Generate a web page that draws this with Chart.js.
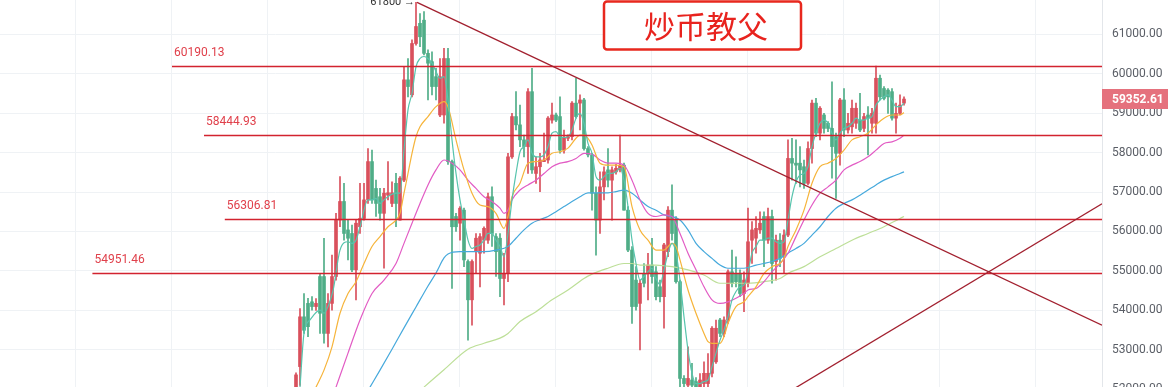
<!DOCTYPE html>
<html>
<head>
<meta charset="utf-8">
<script src="https://cdn.jsdelivr.net/npm/chart.js@4.4.0/dist/chart.umd.min.js"></script>
<style>
  html, body { margin: 0; padding: 0; background: #fff; overflow: hidden; }
  #wrap { width: 1168px; height: 400px; }
</style>
</head>
<body>
<div id="wrap"><canvas id="kline" width="1168" height="400"></canvas></div>
<script>
// candles, index 0 = first visible candle
const candleOpen = [
  51900, 52580, 53840, 54180, 54220, 54100, 54860, 54860, 53420, 54180,
  54860, 56290, 56760, 56040, 55950, 55030, 56120, 56330, 56800, 57770,
  57090, 56880, 56460, 56920, 56710, 57220, 56290, 57300, 59840, 59460,
  60760, 61270, 61350, 60510, 60300, 59920, 58950, 58950, 60380, 57770,
  56380, 56210, 56540, 55240, 54270, 55490, 55450, 55780, 55780, 56880,
  55870, 55830, 54810, 54940, 57890, 58910, 58700, 58320, 58150, 59540,
  57470, 57640, 57770, 57810, 58820, 58950, 58910, 58060, 58360, 58400,
  59250, 59250, 59330, 58100, 57940, 56970, 56290, 57130, 57560, 57300,
  57510, 57560, 57680, 56540, 55530, 54770, 54180, 54940, 54940, 55150,
  54980, 54600, 54350, 55490, 56540, 56290, 54730, 52280, 52110, 52240,
  52200, 52070, 52150, 52150, 52410, 52700, 53760, 53420, 53760, 54980,
  54940, 54940, 54430, 54690, 55780, 55830, 56040, 56380, 55780, 56380,
  55240, 55780, 55360, 55910, 57850, 57730, 57730, 57640, 57220, 58100,
  59250, 58490, 58950, 58740, 58610, 58400, 57980, 59330, 58570, 58650,
  58740, 58820, 58610, 58950, 58740, 58740, 59880, 59620, 59580, 59540,
  58870, 58990, 59250
];
const candleHigh = [
  52420, 54050, 54430, 54310, 54350, 54300, 54940, 55830, 54430, 55400,
  56460, 57390, 57220, 56290, 56160, 56290, 57220, 57220, 58100, 58060,
  57300, 57090, 57090, 57770, 57260, 57470, 57390, 60170, 60380, 60850,
  61800, 61520, 61570, 60600, 60550, 60130, 60380, 60640, 60640, 57810,
  56460, 56630, 56590, 55280, 55280, 55950, 55950, 56120, 56970, 57130,
  55950, 55950, 55450, 57980, 58990, 59540, 59200, 58440, 59620, 60130,
  57890, 57980, 58490, 58910, 59250, 59000, 59410, 58570, 58450, 59290,
  59880, 59460, 59370, 58150, 57980, 57130, 57510, 57640, 58100, 57640,
  57700, 58440, 57730, 56630, 55620, 55110, 54770, 55190, 55450, 55830,
  55110, 54770, 55700, 56630, 57180, 56380, 54770, 52350, 53080, 52660,
  52300, 52400, 52700, 52910, 53590, 53760, 53800, 53840, 55030, 55530,
  55360, 55030, 54980, 56590, 56250, 56380, 56500, 56500, 56590, 56540,
  55910, 55950, 56040, 58320, 58360, 58320, 58150, 57810, 58270, 59330,
  59370, 59160, 58990, 58780, 59790, 58490, 59370, 59620, 58990, 59330,
  59250, 59500, 58990, 59160, 59120, 60190, 59960, 59670, 59620, 59620,
  59250, 59460, 59410
];
const candleLow = [
  51800, 52100, 53420, 53340, 54010, 54000, 53420, 53170, 53080, 54010,
  54770, 56120, 55780, 55280, 54980, 54270, 55950, 56290, 56710, 56710,
  56380, 56290, 55070, 56800, 56630, 56120, 56290, 57260, 59410, 59410,
  60720, 60680, 60470, 59330, 59460, 59330, 58910, 58740, 57700, 54560,
  56000, 55780, 55110, 53250, 53630, 54940, 54600, 55450, 55700, 55620,
  54860, 54350, 54140, 54730, 57850, 58570, 58150, 57890, 57470, 57470,
  57220, 57010, 57770, 57730, 58740, 58780, 57980, 57980, 58300, 58320,
  58870, 58570, 58060, 57890, 56540, 55400, 55950, 56800, 57130, 56290,
  57450, 57510, 56540, 55490, 53670, 54010, 53000, 54600, 54270, 54690,
  54270, 54220, 53550, 55360, 55780, 54690, 51900, 51950, 51950, 51950,
  51900, 51950, 51950, 51950, 52320, 52660, 53340, 53340, 53670, 54600,
  54600, 54350, 53970, 54600, 55190, 55450, 55950, 55110, 55700, 54690,
  54770, 55110, 54940, 55870, 57300, 57220, 57130, 57090, 57180, 57730,
  58400, 58320, 58490, 58530, 57350, 56840, 57680, 58400, 58490, 58490,
  58610, 58530, 58530, 57940, 58490, 58490, 59330, 59330, 58990, 58820,
  58490, 58950, 59200
];
const candleClose = [
  52370, 53840, 53500, 53590, 54100, 54180, 53930, 53420, 54180, 54860,
  56290, 56760, 55950, 55830, 55030, 56210, 56330, 56800, 57770, 56800,
  56710, 56460, 56970, 56980, 56980, 56710, 57350, 59840, 59670, 60760,
  61190, 60930, 60510, 60260, 59670, 59670, 59920, 60380, 57770, 56120,
  56120, 56590, 55280, 54270, 55240, 55830, 55870, 56080, 56880, 55950,
  55490, 54810, 54940, 57890, 58910, 58700, 58320, 58150, 59540, 57560,
  57640, 57810, 57810, 58870, 58950, 58820, 58060, 58360, 58400, 59250,
  58910, 59330, 58100, 57940, 56970, 56290, 57130, 57510, 57300, 57560,
  57600, 57680, 56540, 55530, 54100, 54100, 54690, 54690, 55150, 54860,
  54350, 54350, 55660, 56540, 55950, 54730, 52280, 52150, 52280, 52110,
  52060, 52240, 52410, 52410, 53550, 53550, 53420, 53760, 54980, 54690,
  54730, 54430, 54770, 55740, 56040, 56080, 56210, 55780, 56380, 55190,
  55780, 55320, 55910, 57850, 57730, 57680, 57560, 57220, 58100, 59250,
  58490, 59120, 58610, 58610, 58150, 57980, 59330, 58570, 58740, 59120,
  59120, 58570, 58910, 58870, 58990, 59880, 59410, 59370, 59410, 58870,
  58990, 59200, 59352.61
];

// moving averages: [candle index, price]
const ma5 = [
  [1, 52060], [2, 53420], [3.5, 53760], [6, 54010], [7, 53930], [8, 54100], [9.3, 54520],
  [11, 55530], [13, 55740], [14, 55700], [15, 55780], [16, 56120], [18, 56800], [19, 56800],
  [20, 56840], [21, 56710], [22, 56800], [23.5, 56920], [25, 56970], [26, 56970], [27, 58060],
  [28, 59080], [29, 59500], [30, 60170], [31, 60380], [32, 60430], [33, 60380], [34, 60260],
  [35, 60050], [36, 59880], [37, 59920], [38, 59330], [39, 58320], [40, 57470], [41, 56800],
  [42, 56290], [43, 55780], [44, 55570], [45, 55620], [46, 55660], [47, 55780], [48, 55950],
  [49, 55950], [50, 55780], [51, 55620], [52, 55360], [53, 55950], [54, 56800], [55, 57470],
  [56, 58020], [57, 58150], [58, 58320], [59, 57980], [60, 57890], [61, 57890], [62, 57940],
  [63, 58150], [64, 58490], [65, 58530], [66, 58400], [67, 58380], [68, 58400], [69, 58570],
  [70, 58870], [71, 58990], [72, 58740], [73, 58230], [74, 57980], [75, 57390], [76, 57300],
  [77, 57390], [78, 57470], [79, 57470], [80, 57510], [81, 57600], [82, 57300], [83, 56630],
  [84, 55780], [85, 55190], [86, 54770], [87, 54860], [88, 54980], [89, 55070], [90, 54810],
  [91, 54650], [92, 55030], [93, 55450], [94, 55700], [95, 55450], [96, 54770], [97, 53840],
  [98, 53000], [99, 52410], [100, 52150], [101, 52150], [102, 52200], [103, 52240], [104, 52580],
  [105, 52920], [106, 53250], [107, 53510], [108, 53840], [109, 54270], [110, 54480], [111, 54600],
  [112, 54650], [113, 54980], [114, 55450], [115, 55620], [116, 55780], [117, 55780], [118, 55830],
  [119, 55830], [120, 55740], [121, 55700], [122, 55740], [123, 56290], [124, 56880], [125, 57260],
  [126, 57430], [127, 57470], [128, 57640], [129, 58150], [130, 58490], [131, 58740], [132, 58820],
  [133, 58740], [134, 58490], [135, 58320], [136, 58490], [137, 58610], [138, 58650], [139, 58740],
  [140, 58870], [141, 58820], [142, 58820], [143, 58870], [144, 58910], [145, 59200], [146, 59330],
  [147, 59410], [148, 59460], [149, 59330], [150, 59160], [151, 59160], [152, 59250]
];
const ma10 = [
  [5, 52060], [7, 52490], [9, 53080], [11, 53930], [13, 54430], [15, 54730], [17, 55190],
  [19, 55620], [21, 55870], [23, 56120], [25, 56290], [26, 56460], [27, 56970], [28, 57470],
  [29, 57980], [30, 58400], [31, 58650], [33, 58910], [35, 59160], [37, 59290], [38, 59160],
  [40, 58320], [42, 57560], [44, 56970], [46, 56670], [48, 56630], [50, 56460], [52, 56080],
  [53, 56380], [54, 56880], [56, 57220], [58, 57730], [60, 57770], [62, 57810], [64, 57980],
  [66, 58020], [68, 58110], [70, 58360], [71, 58440], [72, 58440], [73, 58360], [74, 58190],
  [76, 57730], [78, 57680], [80, 57680], [82, 57640], [84, 56630], [86, 56040], [88, 55780],
  [90, 55530], [92, 55530], [94, 55700], [95, 55620], [96, 55280], [98, 54520], [100, 53930],
  [102, 53420], [103, 53210], [104, 53170], [106, 53170], [107, 53340], [108, 53670], [110, 54100],
  [112, 54220], [113, 54350], [115, 54600], [117, 54940], [119, 55110], [121, 55190], [122, 55320],
  [123, 55620], [125, 56040], [127, 56540], [129, 57220], [131, 57640], [133, 57730], [135, 57850],
  [137, 58060], [139, 58320], [141, 58400], [143, 58490], [145, 58700], [147, 58870], [149, 58950],
  [151, 58950], [152, 59010]
];
const ma20 = [
  [10, 52060], [13, 52920], [16, 53760], [19, 54430], [22, 54770], [25, 55190], [27, 55700],
  [29, 56210], [31, 56710], [33, 57180], [35, 57560], [37, 57810], [39, 57730], [41, 57560],
  [43, 57300], [45, 57090], [47, 56880], [49, 56760], [51, 56590], [52, 56460], [53, 56540],
  [54, 56800], [56, 57050], [58, 57180], [60, 57300], [62, 57470], [64, 57640], [66, 57730],
  [68, 57770], [70, 57850], [72, 57980], [74, 57960], [76, 57810], [78, 57730], [80, 57730],
  [82, 57680], [84, 57300], [86, 56800], [88, 56460], [90, 56380], [92, 56420], [94, 56380],
  [96, 55950], [98, 55450], [100, 55030], [102, 54600], [104, 54270], [106, 54180], [108, 54220],
  [110, 54310], [112, 54430], [113, 54520], [115, 54560], [117, 54730], [119, 54980], [121, 55190],
  [123, 55450], [125, 55870], [127, 56290], [129, 56670], [131, 56970], [133, 57130], [135, 57300],
  [137, 57560], [139, 57680], [141, 57770], [143, 57890], [145, 58060], [147, 58230], [149, 58270],
  [151, 58360], [152, 58440]
];
const ma30 = [
  [18.5, 52060], [21, 52490], [24, 53020], [27, 53560], [30, 54090], [33, 54620], [35, 54950],
  [37, 55330], [38, 55430], [41, 55490], [44, 55490], [47, 55490], [50, 55530], [53, 55620],
  [55, 55830], [57, 56040], [59, 56210], [61, 56300], [63, 56380], [65, 56500], [67, 56630],
  [69, 56760], [71, 56880], [73, 56980], [76, 56980], [78, 56980], [80, 57010], [82, 57050],
  [84, 56970], [86, 56800], [88, 56630], [90, 56540], [92, 56420], [94, 56380], [96, 56290],
  [98, 56040], [100, 55700], [102, 55490], [104, 55320], [106, 55150], [108, 55070], [110, 55070],
  [112, 55070], [115, 55150], [117, 55190], [119, 55240], [121, 55320], [123, 55450], [125, 55570],
  [127, 55700], [129, 55910], [131, 56120], [133, 56380], [135, 56590], [137, 56710], [139, 56800],
  [141, 56920], [143, 57050], [145, 57180], [147, 57300], [149, 57390], [151, 57470], [152, 57510]
];
const ma120 = [
  [32, 52060], [37, 52500], [43, 53020], [47, 53170], [51, 53300], [53, 53420], [56, 53720],
  [60, 53970], [64, 54270], [68, 54520], [72, 54810], [74, 54920], [78, 55070], [82, 55190],
  [84, 55190], [86, 55150], [90, 55150], [94, 55110], [98, 55030], [102, 54900], [106, 54690],
  [110, 54690], [113, 54690], [117, 54730], [121, 54810], [123, 54940], [127, 55110], [131, 55360],
  [135, 55570], [139, 55780], [143, 55950], [147, 56120], [151, 56330], [152, 56380]
];

// price axis ticks
const priceTicks = [52000, 53000, 54000, 55000, 56000, 57000, 58000, 59000, 60000, 61000];

// drawn levels and trend lines
const levels = [60190.13, 58444.93, 56306.81, 54951.46];
const levelFrom = [-31, -23, -17.8, -50.9];
const trendDown = [[30.25, 61800], [172.75, 55000]];
const trendUp = [[126, 52110], [201.5, 56700]];
const lastPrice = 59352.61;

const UP = '#d9505c';
const DOWN = '#4fad87';

const idx = candleOpen.map((_, i) => i);
const candleColor = idx.map(i => candleClose[i] >= candleOpen[i] ? UP : DOWN);
const toXY = arr => arr.map(p => ({x: p[0], y: p[1]}));

function maSet(arr, color) {
    return {
        type: 'line',
        data: toXY(arr),
        borderColor: color,
        borderWidth: 1.2,
        pointRadius: 0,
        cubicInterpolationMode: 'monotone',
        fill: false
    };
}

const overlay = {
    id: 'overlay',
    afterDatasetsDraw(chart) {
        const {ctx, chartArea, scales} = chart;
        const x = scales.x, y = scales.y;

        ctx.save();
        ctx.beginPath();
        ctx.rect(chartArea.left, chartArea.top, chartArea.width, chartArea.height);
        ctx.clip();

        // price levels
        ctx.font = '12px Roboto';
        levels.forEach((v, k) => {
            const py = Math.round(y.getPixelForValue(v)) + 0.5;
            const px = x.getPixelForValue(levelFrom[k]);
            ctx.strokeStyle = '#d2232f';
            ctx.lineWidth = 1.3;
            ctx.beginPath();
            ctx.moveTo(px, py);
            ctx.lineTo(chartArea.right, py);
            ctx.stroke();
            ctx.fillStyle = '#e0404b';
            ctx.fillText(v.toFixed(2), px + 2, py - 11);
        });

        // trend lines
        function ray(pts, fromX) {
            const [a, b] = pts;
            const slope = (b[1] - a[1]) / (b[0] - a[0]);
            const x0 = fromX, x1 = x.max;
            ctx.strokeStyle = '#a2202f';
            ctx.lineWidth = 1.3;
            ctx.beginPath();
            ctx.moveTo(x.getPixelForValue(x0), y.getPixelForValue(a[1] + (x0 - a[0]) * slope));
            ctx.lineTo(x.getPixelForValue(x1), y.getPixelForValue(a[1] + (x1 - a[0]) * slope));
            ctx.stroke();
        }
        ray(trendDown, trendDown[0][0]);
        ray(trendUp, 120);

        // high marker
        ctx.fillStyle = '#333';
        ctx.font = '11px Roboto';
        ctx.textAlign = 'right';
        ctx.fillText('61800 \u2192', x.getPixelForValue(trendDown[0][0]) - 2, y.getPixelForValue(61800) + 3);
        ctx.restore();

        // watermark box
        ctx.save();
        ctx.strokeStyle = '#e8281e';
        ctx.lineWidth = 2.5;
        ctx.fillStyle = '#fff';
        ctx.beginPath();
        ctx.roundRect(604, 1.5, 197, 48, 3);
        ctx.fill();
        ctx.stroke();
        ctx.fillStyle = '#e8231e';
        ctx.font = '31px "Noto Sans CJK SC"';
        ctx.textAlign = 'center';
        ctx.textBaseline = 'middle';
        ctx.fillText('炒币教父', 706, 26);
        ctx.restore();

        // last price tag
        ctx.save();
        const ty = Math.round(y.getPixelForValue(lastPrice));
        ctx.fillStyle = '#e5717d';
        ctx.fillRect(chartArea.right, ty - 10, chart.width - chartArea.right, 20);
        ctx.fillStyle = '#fff';
        ctx.font = 'bold 12px Roboto';
        ctx.textBaseline = 'middle';
        ctx.fillText(lastPrice.toFixed(2), chartArea.right + 10, ty + 0.5);
        ctx.restore();
    }
};

new Chart(document.getElementById('kline'), {
    type: 'bar',
    data: {
        datasets: [
            maSet(ma5, '#57c4ad'),
            maSet(ma10, '#f6b43a'),
            maSet(ma20, '#e25bc4'),
            maSet(ma30, '#46a9dc'),
            maSet(ma120, '#bddf98'),
            {
                // bodies
                data: idx.map(i => ({x: i, y: [candleOpen[i], candleClose[i]]})),
                backgroundColor: candleColor,
                barThickness: 3,
                minBarLength: 1,
                grouped: false,
                borderWidth: 0
            },
            {
                // wicks
                data: idx.map(i => ({x: i, y: [candleLow[i], candleHigh[i]]})),
                backgroundColor: candleColor,
                barThickness: 1,
                grouped: false,
                borderWidth: 0
            }
        ]
    },
    options: {
        responsive: false,
        animation: false,
        events: [],
        layout: {padding: 0},
        plugins: {legend: {display: false}, tooltip: {enabled: false}},
        scales: {
            x: {
                type: 'linear',
                min: -74,
                max: 201.5,
                offset: false,
                ticks: {display: false},
                grid: {color: '#eff2f5', drawTicks: false},
                border: {display: false},
                afterBuildTicks: s => {
                    const t = [];
                    for (let v = -67.25; v < s.max; v += 24) t.push({value: v});
                    s.ticks = t;
                },
                afterFit: s => { s.height = 0; }
            },
            y: {
                type: 'linear',
                position: 'right',
                min: 51734,
                max: 61861,
                ticks: {
                    color: '#5a5e66',
                    font: {family: 'Roboto', size: 12},
                    padding: 10,
                    callback: v => Number(v).toFixed(2)
                },
                grid: {color: '#eff2f5', drawTicks: false},
                border: {color: '#e3e6ea'},
                afterBuildTicks: s => { s.ticks = priceTicks.map(v => ({value: v})); },
                afterFit: s => { s.width = 66; s.paddingTop = 0; s.paddingBottom = 0; }
            }
        }
    },
    plugins: [overlay]
});
</script>
</body>
</html>
